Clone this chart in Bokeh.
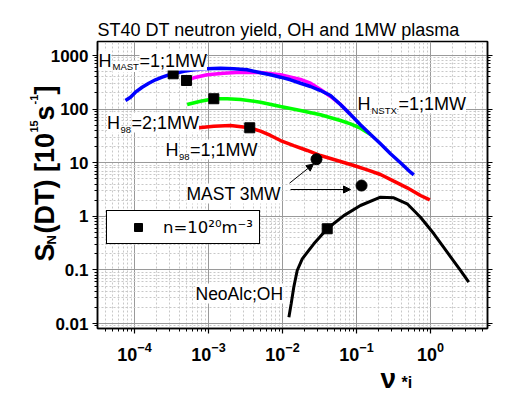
import math
from bokeh.plotting import figure
from bokeh.models import (Range1d, LogAxis, FixedTicker, CustomJSTickFormatter,
                          Label, Arrow, NormalHead, Legend, LegendItem)
from bokeh.core.properties import value
from bokeh.embed import file_html
from bokeh.resources import INLINE

# ---------------- data ----------------
nu_hmast = [7.55e-5, 8.83e-5, 1.03e-4, 1.27e-4, 1.56e-4, 1.92e-4, 2.37e-4, 2.91e-4,
            3.58e-4, 4.64e-4, 6.33e-4, 9.6e-4, 1.45e-3, 2.2e-3, 3.33e-3, 5.04e-3,
            6.89e-3, 9.4e-3, 1.28e-2, 1.75e-2, 2.39e-2, 3.26e-2, 4.45e-2, 6.08e-2,
            8.3e-2, 0.113, 0.155, 0.211, 0.288, 0.393, 0.537, 0.595]
sn_hmast = [145, 167, 207, 256, 304, 352, 394, 436, 468, 510, 541, 565, 580, 565,
            541, 476, 436, 394, 352, 304, 264, 222, 179, 122, 79.3, 51, 33.6, 22.5,
            14.7, 9.96, 6.65, 5.95]

nu_hnstx = [5.04e-4, 6.33e-4, 9.6e-4, 1.61e-3, 2.71e-3, 5.04e-3, 9.4e-3, 1.75e-2,
            2.39e-2, 3.26e-2, 4.45e-2, 6.08e-2, 8.3e-2]
sn_hnstx = [342, 384, 436, 468, 488, 482, 436, 357, 304, 232, 172, 122, 79.3]

nu_h98_2 = [5.15e-4, 7.8e-4, 1.18e-3, 1.79e-3, 2.71e-3, 5.04e-3, 9.4e-3, 1.75e-2,
            3.26e-2, 6.08e-2, 8.3e-2, 0.113, 0.155]
sn_h98_2 = [122, 140, 156, 156, 151, 134.5, 112, 94.2, 78.3, 61.3, 53.2, 44, 33.6]

nu_h98_1 = [7.39e-4, 1.18e-3, 1.98e-3, 3.61e-3, 5.04e-3, 6.89e-3, 9.4e-3, 1.42e-2,
            2.16e-2, 3.26e-2, 5.48e-2, 9.2e-2, 0.140, 0.211, 0.319, 0.484, 0.733, 0.978]
sn_h98_1 = [44.8, 48, 49.4, 44.8, 38.7, 32.2, 25.9, 20.9, 16.9, 13.6, 11.0, 8.87,
            7.37, 6.02, 4.52, 3.40, 2.44, 2.03]

nu_neo = [1.22e-2, 1.31e-2, 1.42e-2, 1.58e-2, 1.85e-2, 2.65e-2, 4.02e-2, 6.73e-2,
          0.113, 0.211, 0.319, 0.484, 0.733, 1.11, 1.68, 2.54, 3.29]
sn_neo = [0.0131, 0.0233, 0.0475, 0.0975, 0.161, 0.307, 0.585, 1.03, 1.59, 2.27,
          2.21, 1.71, 0.962, 0.472, 0.214, 0.0975, 0.059]

nu_n20 = [3.33e-4, 5.04e-4, 1.18e-3, 3.61e-3, 4.02e-2]
sn_n20 = [456, 342, 156, 44.8, 0.585]

nu_mast3 = [2.88e-2, 0.117]
sn_mast3 = [11.6, 3.75]

x_ticks = [1e-4, 1e-3, 1e-2, 1e-1, 1.0]
y_ticks = [0.01, 0.1, 1.0, 10.0, 100.0, 1000.0]
x_minor = [m * 10.0 ** e for e in range(-5, 1) for m in range(1, 10)]
y_minor = [m * 10.0 ** e for e in range(-3, 4) for m in range(1, 10)]

# ---------------- layout helpers (pixel -> data, for annotations) ----------------
FL, FR, FT, FB = 97, 487, 41, 328


def ax(px):
    return 10 ** ((px - 430) / 74.0)


def ay(py):
    return 10 ** ((215.8 - py) / 53.6)


FONT = "Liberation Sans"

p = figure(x_axis_type="log", y_axis_type="log",
           x_range=Range1d(ax(FL), ax(FR)), y_range=Range1d(ay(FB), ay(FT)),
           frame_width=FR - FL, frame_height=FB - FT,
           min_border_left=FL, min_border_right=528 - FR,
           min_border_top=FT, min_border_bottom=394 - FB,
           output_backend="svg", toolbar_location=None)
p.background_fill_color = "white"
p.border_fill_color = "white"
p.outline_line_color = "black"
p.outline_line_width = 1.5

p.title.text = "ST40 DT neutron yield, OH and 1MW plasma"
p.title.text_font = FONT
p.title.text_font_size = "18px"
p.title.text_font_style = "normal"
p.title.text_color = "black"
p.title.align = "left"
p.title.offset = 0
p.title.standoff = 4

xt = FixedTicker(ticks=x_ticks, minor_ticks=x_minor)
yt = FixedTicker(ticks=y_ticks, minor_ticks=y_minor)
yfmt = CustomJSTickFormatter(code="return tick >= 1 ? tick.toFixed(0) : String(parseFloat(tick.toPrecision(1)));")

xa = p.xaxis[0]
xa.ticker = xt
ya = p.yaxis[0]
ya.ticker = yt
ya.formatter = yfmt

ra = LogAxis(ticker=yt, formatter=CustomJSTickFormatter(code="return '';"),
             major_label_text_font_size="8px")
p.add_layout(ra, "right")

for a in (xa, ya, ra):
    a.axis_line_color = "black"
    a.axis_line_width = 1.5
    a.major_tick_line_color = "black"
    a.minor_tick_line_color = "black"
    a.major_tick_line_width = 1.2
    a.minor_tick_line_width = 1
    a.major_tick_out = 5
    a.major_tick_in = 0
    a.minor_tick_out = 3
    a.minor_tick_in = 0
for a in (xa, ya):
    a.major_label_text_font = FONT
    a.major_label_text_font_style = "bold"
    a.major_label_text_color = "black"
xa.major_label_text_font_size = "18px"
xa.major_label_standoff = 8
ya.major_label_text_font_size = "17px"
ya.major_label_standoff = 4

for g in (p.xgrid[0], p.ygrid[0]):
    g.grid_line_color = "#9a9a9a"
    g.grid_line_width = 1
    g.minor_grid_line_color = "#c8c8c8"
    g.minor_grid_line_dash = "2 2"
    g.minor_grid_line_width = 1

# ---------------- curves ----------------
p.line(nu_h98_1, sn_h98_1, line_color="#ff0000", line_width=3.5)
p.line(nu_h98_2, sn_h98_2, line_color="#00ff00", line_width=3.5)
p.line(nu_hnstx, sn_hnstx, line_color="#ff00ff", line_width=3.5)
p.line(nu_hmast, sn_hmast, line_color="#0000ff", line_width=3.5)
p.line(nu_neo, sn_neo, line_color="black", line_width=3)
sq = p.scatter(nu_n20, sn_n20, marker="square", size=10, color="black")
p.scatter(nu_mast3, sn_mast3, marker="circle", size=11, color="black")

# ---------------- legend ----------------
legend = Legend(items=[LegendItem(label="n=10²⁰m⁻³", renderers=[sq])],
                location=(9, 84), margin=0, padding=6,
                glyph_width=50, glyph_height=20, label_standoff=-5,
                label_text_font="DejaVu Sans", label_text_font_size="16.5px",
                label_text_color="black",
                border_line_color="black", border_line_width=1.5, border_line_alpha=1.0,
                background_fill_color="white", background_fill_alpha=1.0)
p.add_layout(legend)


# ---------------- text annotations inside the frame ----------------
def txt(px, py, s, size, bold=False, bg=True):
    kw = {}
    if bg:
        kw["background_fill_color"] = "white"
    p.add_layout(Label(x=ax(px), y=ay(py), text=s, text_font=FONT,
                       text_font_size=f"{size}px",
                       text_font_style="bold" if bold else "normal",
                       text_color="black", text_align="left",
                       text_baseline="alphabetic", **kw))


txt(98, 60, "H", 18)
txt(112, 66, "MAST", 9.5)
txt(139, 60, "=1;1MW", 18)

txt(357, 103, "H", 18)
txt(371, 110, "NSTX", 9.5)
txt(398, 103, "=1;1MW", 18)

txt(106.5, 122, "H", 18)
txt(120, 129, "98", 9.5)
txt(131, 122, "=2;1MW", 18)

txt(165, 149, "H", 18)
txt(178.5, 156, "98", 9.5)
txt(189.5, 149, "=1;1MW", 18)

txt(186, 193, "MAST 3MW", 17.5)
txt(195, 293, "NeoAlc;OH", 17.5)

# arrows from "MAST 3MW" to the two points
for (x0, y0, x1, y1) in [(289, 182.7, 313, 163.5), (290, 189, 350, 189)]:
    p.add_layout(Arrow(end=NormalHead(size=7, fill_color="black", line_color="black", line_width=1),
                       x_start=ax(x0), y_start=ay(y0), x_end=ax(x1), y_end=ay(y1),
                       line_color="black", line_width=1))


# ---------------- axis titles (outside the frame; overlay-level text glyphs) ----------------
def otxt(px, py, s, size, angle=0.0):
    p.text(x=[ax(px)], y=[ay(py)], text=[s], angle=angle,
           text_font=value(FONT), text_font_size=f"{size}px", text_font_style="bold",
           text_color="black", text_align="left", text_baseline="alphabetic",
           level="overlay")


R = math.pi / 2
otxt(44, 261, "S", 27, R)
otxt(51, 244, "N", 13, R)
otxt(44, 233, "(DT) [10", 27, R)
otxt(33, 132, "15", 11, R)
otxt(44, 120, "s", 27, R)
otxt(33, 104, "-1", 11, R)
otxt(44, 94, "]", 27, R)

otxt(380, 378, "ν", 28)
otxt(401, 382, "*i", 16)

open("out.html", "w").write(file_html(p, INLINE))
